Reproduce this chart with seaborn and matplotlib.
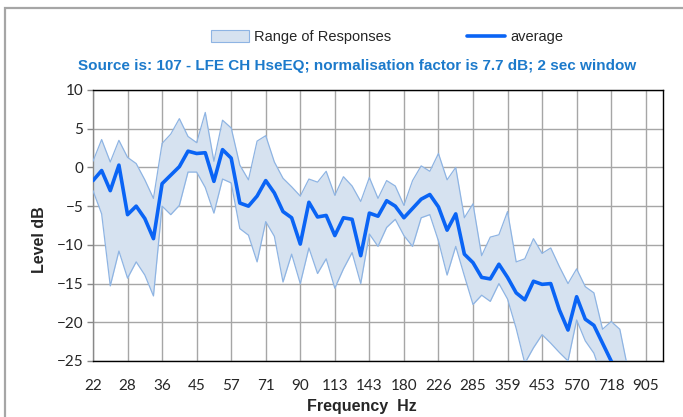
import matplotlib
matplotlib.use("Agg")
import matplotlib.pyplot as plt
from matplotlib.patches import Patch, Rectangle
from matplotlib.lines import Line2D
import numpy as np
import seaborn as sns

# tick labels (Hz), one every 4 bands (1/12 octave steps)
freq_labels = ['22', '28', '36', '45', '57', '71', '90', '113', '143', '180',
               '226', '285', '359', '453', '570', '718', '905']

# upper edge of the range of responses (dB)
upper = [0.8, 3.6, 0.7, 3.5, 1.3, 0.5, -1.6, -4.0, 3.1, 4.3,
         6.3, 4.0, 3.2, 7.1, 0.8, 6.1, 5.1, 0.3, -1.6, 3.4,
         4.1, 0.7, -1.4, -2.5, -3.7, -1.5, -1.9, -0.5, -3.6, -1.2,
         -2.4, -4.4, -1.3, -4.0, -1.7, -2.4, -4.9, -1.7, 0.2, -0.5,
         1.8, -1.6, 0.0, -6.5, -4.7, -11.4, -9.0, -8.7, -5.7, -12.2,
         -11.8, -9.2, -11.1, -10.4, -12.8, -15.0, -13.1, -15.4, -16.2, -20.9,
         -19.9, -20.9, -26.4]

# lower edge of the range of responses (dB)
lower = [-3.0, -6.0, -15.3, -10.8, -14.3, -12.2, -13.9, -16.6, -5.0, -6.1,
         -4.9, -0.6, -0.6, -2.6, -5.9, -1.5, -2.0, -7.9, -8.75, -12.2,
         -7.0, -8.9, -14.8, -11.2, -15.0, -10.4, -13.7, -11.8, -15.6, -13.1,
         -11.0, -15.0, -8.6, -10.2, -7.75, -6.7, -8.8, -10.2, -6.5, -6.1,
         -9.5, -13.9, -10.2, -14.0, -17.7, -16.5, -17.3, -15.0, -17.0, -20.8,
         -25.3, -23.3, -21.6, -22.7, -23.9, -25.0, -19.7, -22.4, -24.0, -27.3,
         -29.0, -30.0, -31.0]

# average response (dB)
average = [-1.7, -0.4, -3.0, 0.3, -6.1, -5.0, -6.6, -9.2, -2.1, -1.0,
           0.1, 2.1, 1.8, 1.9, -1.8, 2.3, 1.2, -4.6, -5.0, -3.7,
           -1.7, -3.3, -5.7, -6.5, -9.9, -4.5, -6.4, -6.2, -8.8, -6.5,
           -6.7, -11.4, -5.9, -6.3, -4.3, -5.0, -6.5, -5.3, -4.1, -3.5,
           -5.1, -8.1, -6.0, -11.2, -12.3, -14.2, -14.4, -12.5, -14.2, -16.2,
           -17.1, -14.7, -15.1, -15.0, -18.4, -21.0, -16.7, -19.6, -20.4, -22.7,
           -25.0, -27.0]

fill_col = '#D6E2F0'
edge_col = '#8EB4E3'
avg_col = '#0A64F5'
title_col = '#1C7ACB'

sns.set_style("white")
plt.rcParams['font.family'] = ['Liberation Sans', 'DejaVu Sans']

fig = plt.figure(figsize=(6.83, 4.17), dpi=100)
ax = fig.add_axes([93 / 683, 1 - 361 / 417, 570 / 683, 271 / 417])

band = np.arange(len(upper))
ax.fill_between(band, lower, upper, color=fill_col, lw=0, zorder=2)
sns.lineplot(x=band, y=upper, ax=ax, color=edge_col, lw=0.9, zorder=3)
sns.lineplot(x=band, y=lower, ax=ax, color=edge_col, lw=0.9, zorder=3)
sns.lineplot(x=np.arange(len(average)), y=average, ax=ax, color=avg_col,
             lw=2.6, zorder=4, solid_joinstyle='round', solid_capstyle='round')

ax.set_xlim(0, 66)
ax.set_ylim(-25, 10)
ax.set_xticks(np.arange(0, 4 * len(freq_labels), 4))
ax.set_xticklabels(freq_labels)
ax.set_yticks(np.arange(-25, 11, 5))
ax.grid(True, color='#A6A6A6', lw=1.0, zorder=0)
ax.set_axisbelow(True)

for t in ax.get_xticklabels() + ax.get_yticklabels():
    t.set_fontfamily('Lato')
    t.set_fontsize(11)
ax.tick_params(axis='y', length=4, width=1, color='#888888', pad=3, left=True)
ax.tick_params(axis='x', length=0, pad=13)

for side in ['top', 'right', 'bottom']:
    ax.spines[side].set_color('black')
    ax.spines[side].set_linewidth(1.0)
ax.spines['left'].set_color('#888888')
ax.spines['left'].set_linewidth(1.0)
ax.set_xlabel('')
ax.set_ylabel('')

fig.text(40 / 683, 1 - 240 / 417, 'Level dB', rotation=90, ha='center',
         va='center', fontsize=11.5, fontweight='bold')
fig.text(362 / 683, 1 - 406 / 417, 'Frequency  Hz', ha='center',
         va='center', fontsize=11.5, fontweight='bold')
fig.text(357 / 683, 1 - 66 / 417,
         'Source is: 107 - LFE CH HseEQ; normalisation factor is 7.7 dB; 2 sec window',
         ha='center', va='center', fontsize=11, fontweight='bold', color=title_col)

handles = [Patch(facecolor=fill_col, edgecolor=edge_col, lw=0.8),
           Line2D([], [], color=avg_col, lw=2.6)]
fig.legend(handles, ['Range of Responses', 'average'], loc='center',
           bbox_to_anchor=(387 / 683, 1 - 37 / 417), ncol=2, frameon=False,
           fontsize=10.5, handlelength=2.6, handleheight=0.8,
           handletextpad=0.35, columnspacing=5.2)

fig.patches.append(Rectangle((5 / 683, -0.1), 1.2, 1 - 8 / 417 + 0.1,
                             transform=fig.transFigure, fill=False,
                             edgecolor='#A6A6A6', lw=1.6))

fig.savefig('out.png', dpi=100)
